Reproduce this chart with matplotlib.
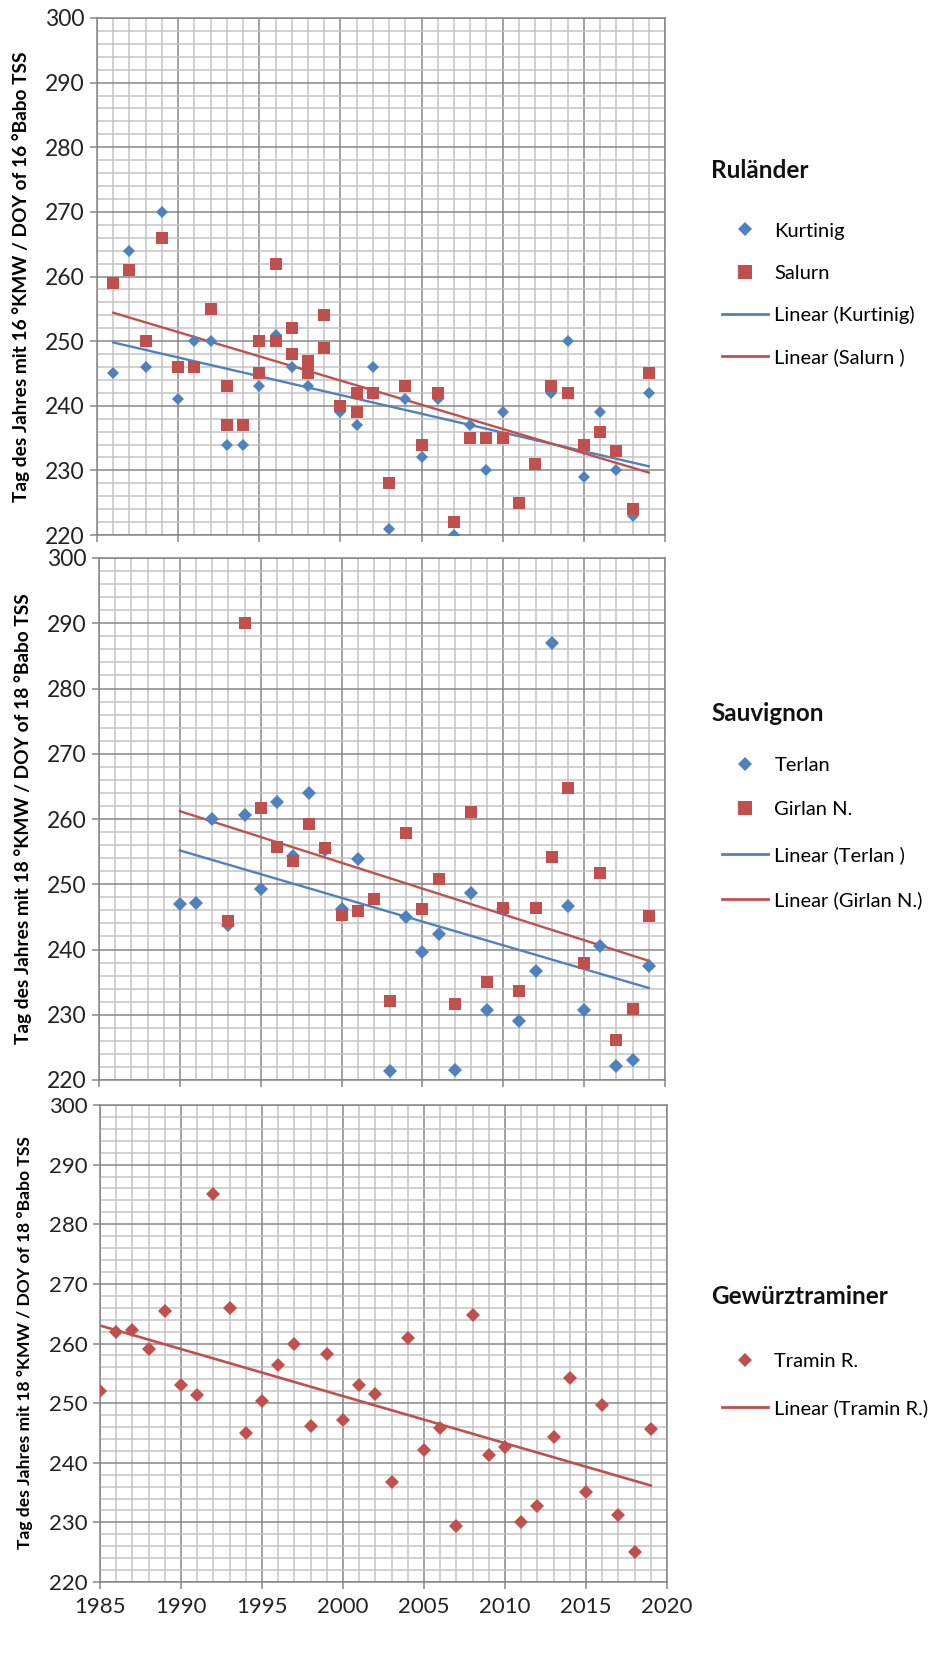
import numpy as np
import matplotlib
matplotlib.use("Agg")
import matplotlib.pyplot as plt
from matplotlib.ticker import MultipleLocator
from matplotlib.lines import Line2D

plt.rcParams["font.family"] = ["Lato", "DejaVu Sans"]

BLUE = "#4f81bd"
RED = "#c0504d"
GRID_MINOR = "#c3c3c3"
GRID_MAJOR = "#878787"

# Ruländer: day of year reaching 16 °KMW
kurtinig_years = [1986, 1987, 1988, 1989, 1990, 1991, 1992, 1993, 1994, 1995, 1996,
                  1997, 1998, 2000, 2001, 2002, 2003, 2004, 2005, 2006, 2007, 2008,
                  2009, 2010, 2013, 2014, 2015, 2016, 2017, 2018, 2019]
kurtinig_doy = [245, 264, 246, 270, 241, 250, 250, 234, 234, 243, 251,
                246, 243, 239, 237, 246, 221, 241, 232, 241, 220, 237,
                230, 239, 242, 250, 229, 239, 230, 223, 242]

salurn_years = [1986, 1987, 1988, 1989, 1990, 1991, 1992, 1993, 1993, 1994, 1995,
                1995, 1996, 1996, 1997, 1997, 1998, 1998, 1999, 1999, 2000, 2001,
                2001, 2002, 2003, 2004, 2005, 2006, 2007, 2008, 2009, 2010, 2011,
                2012, 2013, 2014, 2015, 2016, 2017, 2018, 2019]
salurn_doy = [259, 261, 250, 266, 246, 246, 255, 243, 237, 237, 250,
              245, 262, 250, 252, 248, 247, 245, 254, 249, 240, 242,
              239, 242, 228, 243, 234, 242, 222, 235, 235, 235, 225,
              231, 243, 242, 234, 236, 233, 224, 245]

# Sauvignon: day of year reaching 18 °KMW
terlan_years = [1990, 1991, 1992, 1993, 1994, 1995, 1996, 1997, 1998, 1999, 2000,
                2001, 2003, 2004, 2005, 2006, 2007, 2008, 2009, 2010, 2011, 2012,
                2013, 2014, 2015, 2016, 2017, 2018, 2019]
terlan_doy = [247.0, 247.2, 260.0, 243.7, 260.6, 249.2, 262.6, 254.3, 264.0, 255.2, 246.2,
              253.9, 221.4, 245.0, 239.6, 242.4, 221.5, 248.7, 230.7, 246.2, 229.1, 236.7,
              287.0, 246.7, 230.7, 240.6, 222.1, 223.1, 237.4]

girlan_years = [1993, 1994, 1995, 1996, 1997, 1998, 1999, 2000, 2001, 2002, 2003,
                2004, 2005, 2006, 2007, 2008, 2009, 2010, 2011, 2012, 2013, 2014,
                2015, 2016, 2017, 2018, 2019]
girlan_doy = [244.3, 290.0, 261.7, 255.7, 253.6, 259.3, 255.5, 245.3, 245.9, 247.7, 232.1,
              257.8, 246.2, 250.8, 231.6, 261.0, 235.0, 246.4, 233.6, 246.4, 254.2, 264.8,
              238.0, 251.7, 226.1, 230.9, 245.1]

# Gewürztraminer: day of year reaching 18 °KMW
tramin_years = list(range(1985, 2020))
tramin_doy = [252.0, 261.9, 262.3, 259.0, 265.4, 253.0, 251.3, 285.0, 266.0, 245.0,
              250.3, 256.4, 260.0, 246.2, 258.3, 247.2, 253.0, 251.6, 236.8, 260.9,
              242.1, 245.9, 229.4, 264.8, 241.3, 242.7, 230.0, 232.7, 244.4, 254.2,
              235.1, 249.7, 231.3, 225.0, 245.7]

W, H = 952, 1670
fig = plt.figure(figsize=(W / 100, H / 100), dpi=100)


def px_axes(left, top, right, bottom):
    return fig.add_axes([left / W, 1 - bottom / H, (right - left) / W, (bottom - top) / H])


def style_axes(ax, show_xlabels, fs):
    ax.set_xlim(1985, 2020)
    ax.set_ylim(220, 300)
    ax.xaxis.set_major_locator(MultipleLocator(5))
    ax.xaxis.set_minor_locator(MultipleLocator(1))
    ax.yaxis.set_major_locator(MultipleLocator(10))
    ax.yaxis.set_minor_locator(MultipleLocator(2))
    ax.set_axisbelow(True)
    ax.grid(which="minor", color=GRID_MINOR, lw=1.1)
    ax.grid(which="major", color=GRID_MAJOR, lw=1.1)
    for sp in ax.spines.values():
        sp.set_color(GRID_MAJOR)
        sp.set_linewidth(1.1)
    ax.tick_params(which="major", direction="out", length=5, width=1.1,
                   color=GRID_MAJOR, labelsize=fs, labelcolor="#222222", pad=4)
    ax.tick_params(axis="x", pad=6)
    ax.tick_params(which="minor", length=0)
    ax.tick_params(axis="x", labelbottom=show_xlabels)


def trend(ax, years, doy, color, start=None, lw=1.7):
    # least-squares line, drawn over the series range (or from `start`)
    x = np.array(years, dtype=float)
    k, d = np.polyfit(x, np.array(doy, dtype=float), 1)
    x0 = x.min() if start is None else start
    xs = np.array([x0, x.max()])
    ax.plot(xs, k * xs + d, color=color, lw=lw, zorder=2)


def legend_block(title, entries, title_y, rows_y, fs_title=17.5, fs=14.5):
    fig.text(711 / W, 1 - title_y / H, title, fontsize=fs_title, fontweight="bold",
             ha="left", va="center", color="#111111")
    for (handle, label), y in zip(entries, rows_y):
        fig.legend([handle], [label], loc="center left",
                   bbox_to_anchor=(722 / W, 1 - y / H), frameon=False,
                   borderpad=0, borderaxespad=0, handlelength=2.3,
                   handletextpad=0.3, fontsize=fs)


def dot(marker, color, ms):
    return Line2D([], [], ls="none", marker=marker, ms=ms, mew=0, color=color)


def seg(color):
    return Line2D([], [], color=color, lw=2.0)


label16 = "Tag des Jahres mit 16 °KMW / DOY of 16 °Babo TSS"
label18 = "Tag des Jahres mit 18 °KMW / DOY of 18 °Babo TSS"

# Ruländer
ax1 = px_axes(97, 18, 665, 535)
style_axes(ax1, False, 16.5)
trend(ax1, kurtinig_years, kurtinig_doy, BLUE)
trend(ax1, salurn_years, salurn_doy, RED)
ax1.plot(kurtinig_years, kurtinig_doy, ls="none", marker="D", ms=6.3, mew=0, color=BLUE, zorder=3)
ax1.plot(salurn_years, salurn_doy, ls="none", marker="s", ms=8.6, mew=0, color=RED, zorder=4)
fig.text(21 / W, 1 - 277 / H, label16, rotation=90, ha="center", va="center",
         fontsize=13.8, fontweight="bold")
legend_block("Ruländer",
             [(dot("D", BLUE, 7.6), "Kurtinig"),
              (dot("s", RED, 9.4), "Salurn"),
              (seg(BLUE), "Linear (Kurtinig)"),
              (seg(RED), "Linear (Salurn )")],
             170, [231, 273, 315, 357])

# Sauvignon
ax2 = px_axes(99, 558, 665, 1080)
style_axes(ax2, False, 16.5)
trend(ax2, terlan_years, terlan_doy, BLUE)
trend(ax2, girlan_years, girlan_doy, RED, start=1990)
ax2.plot(terlan_years, terlan_doy, ls="none", marker="D", ms=6.8, mew=0, color=BLUE, zorder=3)
ax2.plot(girlan_years, girlan_doy, ls="none", marker="s", ms=8.6, mew=0, color=RED, zorder=4)
fig.text(23 / W, 1 - 819 / H, label18, rotation=90, ha="center", va="center",
         fontsize=13.8, fontweight="bold")
legend_block("Sauvignon",
             [(dot("D", BLUE, 7.6), "Terlan"),
              (dot("s", RED, 9.4), "Girlan N."),
              (seg(BLUE), "Linear (Terlan )"),
              (seg(RED), "Linear (Girlan N.)")],
             713, [765, 809, 855, 900])

# Gewürztraminer
ax3 = px_axes(100, 1105, 667, 1582)
style_axes(ax3, True, 16)
trend(ax3, tramin_years, tramin_doy, RED, lw=1.9)
ax3.plot(tramin_years, tramin_doy, ls="none", marker="D", ms=7.0, mew=0, color=RED, zorder=3)
fig.text(25 / W, 1 - 1343 / H, label18, rotation=90, ha="center", va="center",
         fontsize=12.6, fontweight="bold")
legend_block("Gewürztraminer",
             [(dot("D", RED, 7.6), "Tramin R."),
              (seg(RED), "Linear (Tramin R.)")],
             1297, [1361, 1408])

fig.savefig("out.png", dpi=100)
